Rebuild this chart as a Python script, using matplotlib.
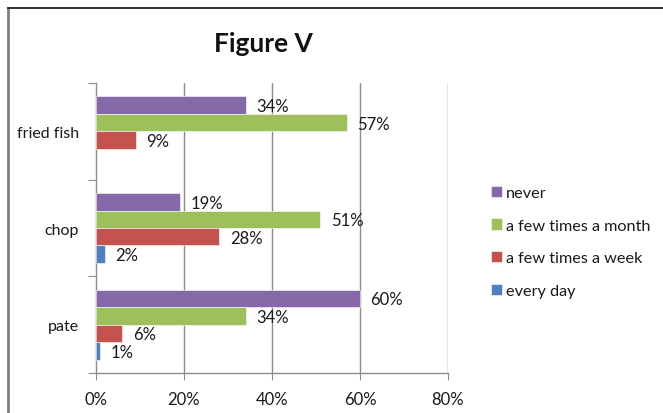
import numpy as np
import matplotlib.pyplot as plt
from matplotlib.lines import Line2D
from matplotlib.patches import Patch

plt.rcParams["font.family"] = ["Lato", "DejaVu Sans"]

# Survey data (share of respondents)
categories = ["pate", "chop", "fried fish"]
series_names = ["never", "a few times a month", "a few times a week", "every day"]
never = [60, 19, 34]
month = [34, 51, 57]
week = [6, 28, 9]
every_day = [1, 2, None]
x_ticks = [0, 20, 40, 60, 80]

colors = ["#8669A8", "#9DBF5C", "#C4524F", "#4F81BD"]
grid_color = "#8C8C8C"
text_color = "#1A1A1A"

fig = plt.figure(figsize=(6.63, 4.14), dpi=100)

# chart border
fig.add_artist(Line2D([8 / 663, 8 / 663], [0, 1 - 9 / 414],
                      transform=fig.transFigure, color="#7F7F7F", lw=2))
fig.add_artist(Line2D([8 / 663, 1], [1 - 9 / 414, 1 - 9 / 414],
                      transform=fig.transFigure, color="#222222", lw=1.3))

ax = fig.add_axes([96 / 663, 40 / 414, 352 / 663, 290 / 414])

h = 0.181
offsets = [1.5 * h, 0.5 * h, -0.5 * h, -1.5 * h]
y = np.arange(len(categories))

for values, name, color, off in zip([never, month, week, every_day],
                                    series_names, colors, offsets):
    for yi, v in zip(y, values):
        if v is None:
            continue
        ax.barh(yi + off, v, height=h, color=color,
                edgecolor="white", linewidth=0.4, zorder=3)
        ax.text(v + 2.4, yi + off - 0.01, f"{v}%", ha="left", va="center",
                fontsize=12, color=text_color, zorder=4)

ax.set_xlim(0, 80)
ax.set_ylim(-0.5, 2.5)

ax.set_xticks(x_ticks)
ax.set_xticklabels([f"{t}%" for t in x_ticks], fontsize=12, color=text_color)
ax.tick_params(axis="x", length=5, color=grid_color, pad=8)
for t in x_ticks[1:]:
    ax.axvline(t, color=grid_color, lw=1, zorder=1)

# category boundaries carry the tick marks, labels sit between them
ax.set_yticks([-0.5, 0.5, 1.5, 2.5])
ax.set_yticklabels([])
ax.tick_params(axis="y", which="major", length=6, color=grid_color)
ax.set_yticks(y, minor=True)
ax.set_yticklabels(categories, minor=True, fontsize=11.5, color=text_color)
ax.tick_params(axis="y", which="minor", length=0, pad=12.5)

for side in ["top", "right"]:
    ax.spines[side].set_visible(False)
for side in ["left", "bottom"]:
    ax.spines[side].set_color(grid_color)
    ax.spines[side].set_linewidth(1)
ax.spines["bottom"].set_bounds(0, 80)

fig.text(263 / 663, 1 - 44 / 414, "Figure V", ha="center", va="center",
         fontsize=19, fontweight="bold", color="#111111")

handles = [Patch(facecolor=c, edgecolor="white", linewidth=0.4) for c in colors]
fig.legend(handles, series_names, loc="upper left",
           bbox_to_anchor=(476 / 663, 1 - 172 / 414), frameon=False,
           fontsize=11.7, handlelength=0.7, handleheight=0.7,
           handletextpad=0.25, labelspacing=1.13, labelcolor=text_color)

fig.savefig("out.png", dpi=100)
